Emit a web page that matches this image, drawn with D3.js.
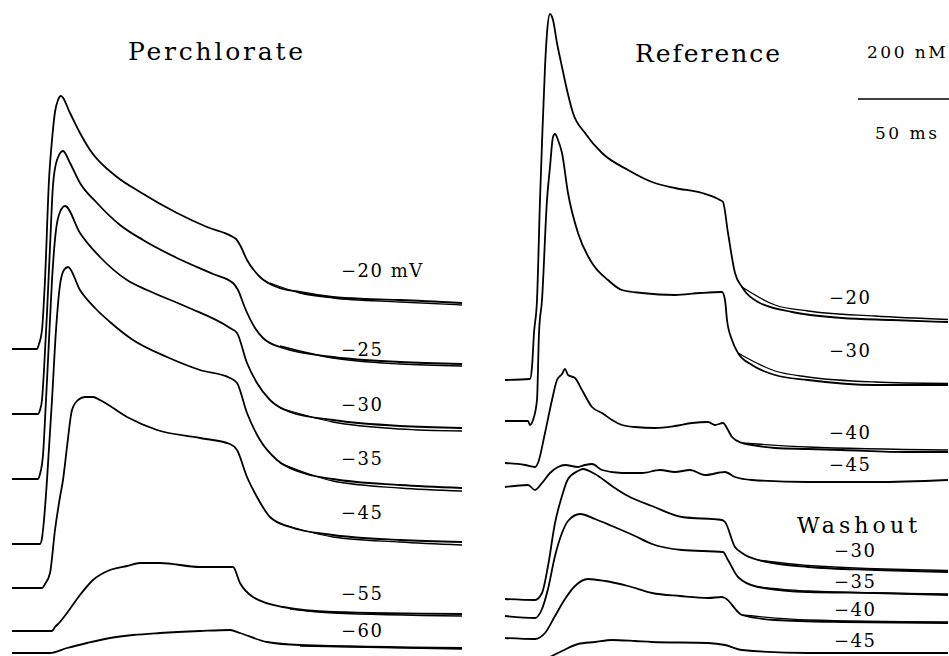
<!DOCTYPE html>
<html><head><meta charset="utf-8">
<script src="https://cdn.jsdelivr.net/npm/d3@7"></script>
<style>html,body{margin:0;padding:0;background:#fff;overflow:hidden}svg{display:block}</style>
</head><body><svg id="c" width="949" height="656"></svg>
<script>
// ---- DATA: time (ms from trace start) and Δ[Ca] (nM above resting level) ----
// Perchlorate panel
const perc20T = [0,12.5,13.5,15,16.5,18.5,20,21.5,23,24.5,29,34,39,52.5,64,82.5,97.5,110.5,112,114,117.5,124,132.5,144,160.5,177.5,194,225];
const perc20V = [0,0,10,38,138,338,418,474,498,506,472,432,398,344,314,272,244,224,220,208,178,144,124,114,104,100,98,92];
const perc25T = [0,13,14,15,16,17.5,19,20.5,22.5,25.5,29,34,42.5,54,65.5,82.5,100.5,110.5,113,116.5,121.5,125.5,135.5,160.5,194,225];
const perc25V = [0,0,8,28,88,202,334,458,508,526,502,462,422,378,348,312,280,262,248,212,172,152,132,114,104,100];
const perc30T = [0,13,14,15.5,17,18.5,20,22,24,26.5,34,44,57.5,67.5,87.5,109,112.5,117.5,122.5,129,139,160.5,194,225];
const perc30V = [0,0,10,48,158,278,398,498,534,546,492,444,398,378,344,302,292,232,192,158,134,118,106,102];
const perc35T = [0,14,15,16,17.5,20,22,24,26,28,34,41.5,49,60.5,77.5,94,109,112.5,117.5,124,132.5,144,160.5,194,225];
const perc35V = [0,0,12,48,128,288,428,518,548,554,508,472,444,408,374,348,332,322,262,208,168,144,130,118,112];
const perc45T = [0,15,16.5,19,21.5,24,25.5,27.5,30,33,36.5,40.5,44,57.5,72.5,94,109,112.5,117.5,122.5,129,139,160.5,194,225];
const perc45V = [0,0,8,30,116,182,216,282,356,376,382,382,376,342,316,300,288,276,222,182,142,122,106,96,92];
const perc55T = [0,20,21.5,24,27.5,34,40.5,49,57.5,64,74,94,110.5,114,120.5,135.5,160.5,225];
const perc55V = [0,0,8,18,36,72,102,122,130,136,136,128,128,96,68,48,38,34];
const perc60T = [0,19,27.5,37.5,49,60.5,74,94,109,114,127.5,144,225];
const perc60V = [0,0,10,20,30,36,40,44,46,40,22,16,10];
// fitted decay curves overlaid on the tails (Perchlorate)
const percFitT = [[129,144,160.5,194,225],[134,160.5,194,225],[134,160.5,194,225],[134,160.5,194,225],[136.5,160.5,194,225],[139,160.5,225],[144,225]];
const percFitV = [[132,112,102,94,88],[136,112,100,96],[142,114,100,96],[162,126,112,106],[126,102,92,86],[44,36,30],[14,8]];
const percLabels = ["\u221220 mV","\u221225","\u221230","\u221235","\u221245","\u221255","\u221260"];
const percOffsets = [614,484,354,224,136,50,6];   // display offset of each trace (nM)

// Reference panel
const ref20T = [0,12.5,13.5,14.5,16,17.5,18.5,20,21,22.5,24,26,28.5,31,34,40,48.5,61.5,73.5,85,98.5,107.5,109,111.5,115,118.5,126.5,143.5,168.5,193.5,221.5];
const ref20V = [0,2,26,94,160,360,474,626,694,732,720,674,626,580,534,494,454,420,396,384,374,360,356,294,214,186,156,136,124,120,116];
const ref30T = [0,11.5,12.5,14,16,17,18.5,21,22.5,24,25,26.5,28.5,31.5,36.5,43.5,51.5,58.5,68.5,85,97.5,108.5,110,111,113.5,116.5,123.5,135,151.5,185,221.5];
const ref30V = [0,0,-8,2,42,176,242,442,508,568,574,562,536,456,376,316,282,262,256,252,256,258,242,202,162,136,112,92,82,72,72];
const ref40T = [0,10,15,16.5,20,23.5,26,28.5,30,31.5,35,38.5,43.5,48.5,53.5,58.5,65,75,85,93.5,101.5,105,109,111.5,113.5,118.5,123.5,135,151.5,168.5,201.5,221.5];
const ref40V = [4,0,-4,4,64,130,170,182,192,180,174,150,116,104,90,80,76,74,78,84,86,80,84,70,56,44,40,34,32,30,26,26];
const ref45T = [0,11.5,15,18.5,22.5,26.5,30,36.5,40,43.5,48.5,58.5,68.5,77.5,85,92.5,100,110,115,123.5,151.5,185,221.5];
const ref45V = [0,4,-6,8,28,40,44,40,44,46,34,28,28,34,30,34,24,30,20,14,10,10,14];
// Washout
const wash30T = [0,15,18.5,21.5,25,28.5,31.5,36.5,39,45,53.5,61.5,73.5,88.5,108.5,110,115,118.5,126.5,151.5,185,221.5];
const wash30V = [0,-2,12,66,152,206,240,256,260,250,226,206,186,164,158,154,104,92,78,64,58,54];
const wash35T = [0,15,18.5,21.5,25,28.5,31.5,37.5,45,53.5,65,73.5,88.5,109,111.5,116.5,126.5,151.5,185,221.5];
const wash35V = [0,-4,14,54,120,166,190,204,194,180,160,144,132,128,112,78,58,48,46,42];
const wash40T = [0,15,20,25,30,35,41.5,50,61.5,73.5,87.5,101.5,108.5,110,118.5,135,168.5,221.5];
const wash40V = [0,-2,10,44,78,104,118,114,104,90,84,80,82,80,46,36,32,30];
const wash45T = [0,17.5,23.5,28.5,36.5,45,53.5,65,73.5,101.5,110,118.5,151.5,221.5];
const wash45V = [0,0,10,20,34,38,42,40,38,36,32,22,16,16];
const refFitT = [[118.5,135,151.5,185,221.5],[116.5,135,151.5,185,221.5],[118.5,151.5,221.5],null,[126.5,151.5,221.5],[126.5,151.5,221.5],[118.5,151.5,221.5],null];
const refFitV = [[186,150,138,128,121],[136,100,88,78,75],[44,36,30],null,[78,67,57],[58,50,44],[46,36,32],null];
const refLabels = ["\u221220","\u221230","\u221240","\u221245","\u221230","\u221235","\u221240","\u221245"];
const refOffsets = [552,470,382,338,114,80,36,-10];

const titles = ["Perchlorate","Reference","Washout"];
const scaleLabels = ["200 nM","50 ms"];
const scaleBarMs = 50;

// ---- LAYOUT ----
const svg = d3.select("#c");
const xScale = d3.scaleLinear().domain([0, 50]).range([0, 100]);   // 2 px per ms
const yScale = d3.scaleLinear().domain([0, 1312]).range([656, 0]);  // 2 nM per px
const panelX = {L: 12, R: 505};
const FONT = "DejaVu Serif";

function zip(t, v){ return t.map((d,i)=>({t:d, v:v[i]})); }

const percT = [perc20T,perc25T,perc30T,perc35T,perc45T,perc55T,perc60T];
const percV = [perc20V,perc25V,perc30V,perc35V,perc45V,perc55V,perc60V];
const refT = [ref20T,ref30T,ref40T,ref45T,wash30T,wash35T,wash40T,wash45T];
const refV = [ref20V,ref30V,ref40V,ref45V,wash30V,wash35V,wash40V,wash45V];

const traces = [];
percT.forEach((t,i)=>traces.push({x0:panelX.L, off:percOffsets[i], pts:zip(t,percV[i]), fit: zip(percFitT[i], percFitV[i])}));
refT.forEach((t,i)=>traces.push({x0:panelX.R, off:refOffsets[i], pts:zip(t,refV[i]), fit: refFitT[i]?zip(refFitT[i], refFitV[i]):null}));

const g = svg.append("g");
traces.forEach(tr=>{
  const line = d3.line().x(d=>tr.x0 + xScale(d.t)).y(d=>yScale(tr.off + d.v)).curve(d3.curveMonotoneX);
  g.append("path").attr("d", line(tr.pts)).attr("fill","none").attr("stroke","#000").attr("stroke-width",1.8).attr("stroke-linejoin","round");
  if (tr.fit) g.append("path").attr("d", line(tr.fit)).attr("fill","none").attr("stroke","#000").attr("stroke-width",1.3);
});

// labels
const percLabelY = [277,356,411,465,519,600,637];
const refLabelY = [304,357,439,471,557,588,616,647];
const refLabelX = [829,829,829,829,834,834,834,834];
percLabels.forEach((s,i)=>svg.append("text").attr("x",341).attr("y",percLabelY[i]).text(s)
  .attr("font-family",FONT).attr("font-size",18).attr("letter-spacing",1.5));
refLabels.forEach((s,i)=>svg.append("text").attr("x",refLabelX[i]).attr("y",refLabelY[i]).text(s)
  .attr("font-family",FONT).attr("font-size",18).attr("letter-spacing",1.5));

svg.append("text").attr("x",128).attr("y",60).text(titles[0]).attr("font-family",FONT).attr("font-size",25)
  .attr("textLength",175).attr("lengthAdjust","spacing");
svg.append("text").attr("x",635).attr("y",62).text(titles[1]).attr("font-family",FONT).attr("font-size",25)
  .attr("textLength",145).attr("lengthAdjust","spacing");
svg.append("text").attr("x",797).attr("y",533).text(titles[2]).attr("font-family",FONT).attr("font-size",22)
  .attr("textLength",120).attr("lengthAdjust","spacing");

// scale bar
svg.append("text").attr("x",867).attr("y",58).text(scaleLabels[0]).attr("font-family",FONT).attr("font-size",17).attr("letter-spacing",2.5);
svg.append("text").attr("x",875).attr("y",139).text(scaleLabels[1]).attr("font-family",FONT).attr("font-size",17).attr("letter-spacing",2.5);
const barStart = 176.5;
svg.append("line").attr("x1",panelX.R + xScale(barStart)).attr("x2",panelX.R + xScale(barStart + scaleBarMs))
  .attr("y1",99).attr("y2",99).attr("stroke","#000").attr("stroke-width",1.5);
</script></body></html>
